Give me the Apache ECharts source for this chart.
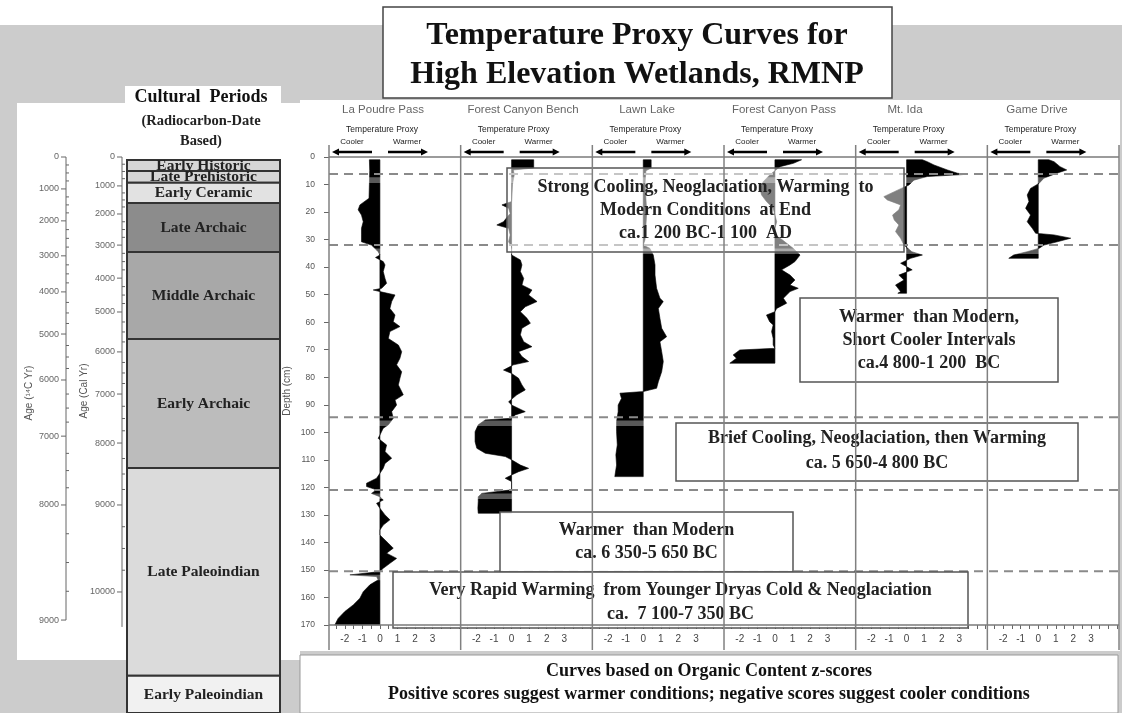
<!DOCTYPE html>
<html><head><meta charset="utf-8">
<script src="https://cdn.jsdelivr.net/npm/echarts@6/dist/echarts.min.js"></script>
<style>html,body{margin:0;padding:0;background:#fff}#c{width:1122px;height:713px}</style>
</head><body><div id="c"></div>
<script>
// ================= DATA =================
const sites = ['La Poudre Pass','Forest Canyon Bench','Lawn Lake','Forest Canyon Pass','Mt. Ida','Game Drive'];
// [depth (cm), organic-content z-score]
const laPoudre = [[1,-0.6],[5,-0.58],[10,-0.6],[15,-0.62],[17.4,-1.14],[19.2,-1.24],[21.1,-1.05],[23.5,-0.95],[25.9,-1.05],[28.3,-1.05],[30.8,-1.05],[32,-0.48],[33.8,-0.19],[34.4,-0.1],[35.6,0],[36.5,-0.25],[38,0.19],[39.2,0.29],[41.6,0.19],[44.1,0.29],[45.9,0.38],[47.7,0.1],[48.3,-0.38],[48.9,0],[50.1,0.86],[52.5,0.67],[55,0.57],[57.4,0.86],[59.8,0.76],[61.6,1.14],[63.4,0.57],[65.9,0.48],[68.3,1.05],[70.7,1.24],[73.1,1.14],[75.5,0.95],[78,1.24],[80.4,1.14],[82.8,1.05],[85.2,1.24],[86.4,1.33],[88.3,0.86],[90.1,0.95],[92.5,0.67],[94.9,0.76],[97.3,0.48],[98.5,0.19],[101,0],[102.2,-0.1],[104.6,0.38],[107,0.29],[109.4,0.67],[111.3,0.29],[113.1,0.19],[114.9,0],[116.7,-0.19],[118.5,-0.76],[119.7,-0.76],[120.9,-0.19],[122.2,-0.48],[123.4,0],[124.6,0.19],[125.8,-0.19],[127.6,0],[130,0.29],[131.8,0.57],[133.7,0.19],[135.5,0],[137.3,0],[140.3,0.48],[142.1,0.76],[143.9,0.38],[145.8,0.95],[147.6,0.57],[149.4,0.19],[150.6,0],[151.8,-1.71],[152.4,-0.19],[153.6,-0.1],[155.4,-0.57],[157.9,-0.95],[160.3,-1.14],[162.7,-1.52],[165.1,-2.0],[167.6,-2.38],[170,-2.57]];
const forestCanyonBench = [[1,1.26],[4,1.26],[4.7,0.1],[6.5,0.15],[10,0.05],[16.2,0],[17.4,-0.55],[18.6,-0.17],[20.5,-0.08],[23.5,-0.46],[24.7,-0.84],[25.9,-0.17],[28.3,-0.08],[30.8,-0.17],[32.6,0],[35.6,0],[37.4,0.5],[39.2,0.59],[41.6,0.5],[44.1,0.69],[46.5,0.59],[48.3,1.16],[50.1,0.97],[52.5,1.45],[54.4,0.78],[56.2,0.5],[58.6,0.88],[60.4,1.07],[62.2,0.59],[64.6,0.5],[67.1,0.69],[68.9,1.16],[70.7,0.4],[72.5,0.59],[74.3,0.97],[75.5,0.11],[77.4,-0.46],[78.6,0],[80.4,0.4],[82.8,0.59],[84.6,0.78],[86.4,0.3],[88.9,-0.17],[90.1,0],[92.5,0.78],[93.7,0.21],[94.9,0],[95.5,-1.5],[97.3,-1.9],[99.8,-2.08],[103.4,-2.08],[105.8,-1.98],[107.6,-1.5],[108.8,-0.36],[110,0],[111.9,0.5],[113.1,0.97],[114.3,0.4],[115.5,0],[116.7,-0.36],[117.9,0],[120.9,0],[122.2,-1.7],[123.4,-1.9],[125.2,-1.9],[127.6,-1.92],[129.4,-1.9]];
const lawnLake = [[1,0.45],[4,0.45],[5,0.15],[10,0.1],[15,0.15],[20,0.2],[25,0.15],[30,0.1],[32,0],[33.2,0.38],[35.6,0.57],[39.2,0.67],[42.9,0.67],[47.7,0.76],[51.3,0.95],[52.5,1.14],[55,0.86],[58.6,0.95],[62.2,1.05],[65.3,1.33],[67.1,0.95],[70.7,1.05],[74.3,1.14],[78,1.05],[81.6,0.86],[84,0.76],[85.2,0],[85.8,-1.33],[87.7,-1.24],[90.1,-1.43],[92.5,-1.43],[96.1,-1.52],[99.8,-1.52],[104.6,-1.48],[108.2,-1.56],[111.9,-1.52],[116.1,-1.62]];
const forestCanyonPass = [[1,1.52],[2.3,1.05],[3.5,0.29],[5,0],[6.5,-0.29],[9,-0.67],[11.4,-0.86],[13.8,-0.76],[16.2,-0.48],[18.6,-0.1],[21.1,0],[23.5,0.1],[25.9,0],[28.3,0],[30,0.4],[32,0.8],[33.2,1.05],[35.6,1.43],[38,1.14],[39.2,0.86],[41,0.38],[42.9,0.86],[44.7,1.14],[46.5,0.86],[47.7,1.33],[48.9,0.86],[51.3,0.48],[53.1,0.67],[55,0.1],[56.2,0],[57.4,-0.48],[59.8,-0.3],[61,-0.1],[63.4,-0.19],[65.9,-0.1],[68.3,-0.1],[69.5,0],[70.1,-2.0],[71.9,-2.38],[73.1,-2.19],[74.9,-2.57]];
const mtIda = [[1,0.9],[1.7,1.18],[2.9,1.56],[4.7,2.32],[5.9,2.9],[6.3,3.4],[7.1,1.18],[8.4,0.42],[10.2,0.13],[11.4,-0.3],[12.6,-0.7],[14.4,-1.3],[15.6,-1.1],[17.4,-0.34],[19.2,-0.44],[21.1,-0.8],[22.9,-0.7],[24.7,-0.44],[27.1,-0.63],[29.5,-0.34],[32,-0.15],[34.4,0.3],[35.6,0.9],[36.8,0.23],[38.6,-0.34],[41,0.32],[42.9,-0.44],[44.7,-0.15],[46.5,-0.63],[48.9,-0.34],[49.5,-0.5]];
const gameDrive = [[1,0.6],[1.7,0.9],[3.5,1.24],[4.7,1.62],[5.9,1.05],[7.7,0.32],[9.6,0.04],[11.4,-0.44],[13.8,-0.63],[16.2,-0.53],[18.6,-0.72],[21.1,-0.44],[23.5,-0.63],[25.9,-0.34],[27.7,-0.15],[28.3,0.9],[29.5,1.85],[30.8,1.08],[32,0.32],[33.2,0.04],[34.4,-0.63],[35.6,-1.4],[36.8,-1.68]];

const zTickLabels = [-2,-1,0,1,2,3];
const zTicks = [-2.5,-2,-1.5,-1,-0.5,0,0.5,1,1.5,2,2.5,3,3.5,4,4.5];
const zoneBoundaries = [6.2,32,94.5,121,150.5];          // dashed lines, depth cm

const c14Ages  = [0,1000,2000,3000,4000,5000,6000,7000,8000,9000];
const c14Depth = [0,11.6,23.2,35.9,49,64.3,81,101.4,126.4,168.2];   // depth-equivalent position
const calAges  = [0,1000,2000,3000,4000,5000,6000,7000,8000,9000,10000];
const calDepth = [0,10.5,20.7,32,44,56.3,70.8,86.1,103.9,126.4,158];

const periods      = ['Early Historic','Late Prehistoric','Early Ceramic','Late Archaic','Middle Archaic','Early Archaic','Late Paleoindian','Early Paleoindian'];
const periodTop    = [1.1,5.1,9.4,16.7,34.5,66.1,113,188.5];
const periodBottom = [5.1,9.4,16.7,34.5,66.1,113,188.5,202];
const periodShade  = ['#d6d6d6','#d6d6d6','#e2e2e2','#8c8c8c','#a8a8a8','#bcbcbc','#dbdbdb','#f1f1f1'];

const annotationTexts = [
  'Strong Cooling, Neoglaciation, Warming  to\nModern Conditions  at End\nca.1 200 BC-1 100  AD',
  'Warmer  than Modern,\nShort Cooler Intervals\nca.4 800-1 200  BC',
  'Brief Cooling, Neoglaciation, then Warming\nca. 5 650-4 800 BC',
  'Warmer  than Modern\nca. 6 350-5 650 BC',
  'Very Rapid Warming  from Younger Dryas Cold & Neoglaciation\nca.  7 100-7 350 BC'
];
const titleText = 'Temperature Proxy Curves for\nHigh Elevation Wetlands, RMNP';
const footText = 'Curves based on Organic Content z-scores\nPositive scores suggest warmer conditions; negative scores suggest cooler conditions';

// ================= LAYOUT =================
const PX = 2.753, TOP = 157, P0 = 329, PW = 131.67, XMIN = -2.9, XMAX = 4.6;
const SERIF = '"Liberation Serif", "Times New Roman", serif';
const SANS = '"Liberation Sans", Arial, sans-serif';
const siteData = [laPoudre, forestCanyonBench, lawnLake, forestCanyonPass, mtIda, gameDrive];
const siteNameX = [383, 523, 647, 784, 905, 1037];

const grids = [], xAxes = [], yAxes = [], series = [];

function areaSeries(idx, pts) {
  return {
    type: 'custom', xAxisIndex: idx, yAxisIndex: idx, z: 2, silent: true,
    data: pts.map(p => [p[1], p[0]]),
    renderItem(params, api) {
      if (params.dataIndex !== 0) return;
      const poly = [api.coord([0, pts[0][0]])];
      pts.forEach(p => poly.push(api.coord([p[1], p[0]])));
      poly.push(api.coord([0, pts[pts.length - 1][0]]));
      return { type: 'polygon', shape: { points: poly }, style: { fill: '#000', stroke: '#000', lineWidth: 0.6 } };
    }
  };
}

for (let i = 0; i < 6; i++) {
  grids.push({ left: P0 + i * PW, top: TOP, width: PW, height: 170 * PX });
  xAxes.push({
    gridIndex: i, type: 'value', min: XMIN, max: XMAX, position: 'bottom',
    axisLine: { show: false, onZero: false }, splitLine: { show: false },
    axisTick: { show: true, length: 4, lineStyle: { color: '#666' }, customValues: zTicks },
    axisLabel: { customValues: zTickLabels, fontSize: 10, color: '#444', margin: 9, fontFamily: SANS }
  });
  yAxes.push({
    gridIndex: i, type: 'value', inverse: true, min: 0, max: 170, interval: 10, show: i === 0, position: 'left',
    axisLine: { show: false, onZero: false }, splitLine: { show: false },
    axisTick: { show: true, length: 5, lineStyle: { color: '#666' } },
    axisLabel: { fontSize: 8.5, color: '#555', margin: 14, fontFamily: SANS },
    name: i === 0 ? 'Depth (cm)' : '', nameLocation: 'middle', nameGap: 37, nameRotate: 90,
    nameTextStyle: { fontSize: 10, color: '#555', fontFamily: SANS }
  });
  series.push(areaSeries(i, siteData[i]));
}

// frame grid (index 6) spanning all panels
grids.push({ left: P0, top: TOP, width: 6 * PW, height: 170 * PX });
xAxes.push({ gridIndex: 6, type: 'value', min: 0, max: 6, show: false });
yAxes.push({ gridIndex: 6, type: 'value', inverse: true, min: 0, max: 170, show: false });
// age grid (index 7)
grids.push({ left: 0, top: TOP, width: 300, height: 175 * PX });
xAxes.push({ gridIndex: 7, type: 'value', min: 0, max: 300, show: false });
yAxes.push({ gridIndex: 7, type: 'value', inverse: true, min: 0, max: 175, show: false });
// period grid (index 8)
grids.push({ left: 127, top: TOP, width: 153, height: 202 * PX });
xAxes.push({ gridIndex: 8, type: 'value', min: 0, max: 1, show: false });
yAxes.push({ gridIndex: 8, type: 'value', inverse: true, min: 0, max: 202, show: false });

// translucent bands just below boundaries
series.push({
  type: 'custom', xAxisIndex: 6, yAxisIndex: 6, z: 4, silent: true,
  data: zoneBoundaries.map(d => [0, d]),
  renderItem(params, api) {
    const d = zoneBoundaries[params.dataIndex];
    const a = api.coord([0, d + 1.2]), b = api.coord([6, d + 3.2]);
    return { type: 'rect', shape: { x: a[0], y: a[1], width: b[0] - a[0], height: b[1] - a[1] }, style: { fill: 'rgba(255,255,255,0.35)' } };
  }
});
// dashed boundaries
series.push({
  type: 'custom', xAxisIndex: 6, yAxisIndex: 6, z: 5, silent: true,
  data: zoneBoundaries.map(d => [0, d]),
  renderItem(params, api) {
    const d = zoneBoundaries[params.dataIndex];
    const a = api.coord([0, d]), b = api.coord([6, d]);
    return { type: 'line', shape: { x1: a[0], y1: a[1], x2: b[0], y2: b[1] }, style: { stroke: '#8a8a8a', lineWidth: 2, lineDash: [9, 6] } };
  }
});
// panel separators + frame
series.push({
  type: 'custom', xAxisIndex: 6, yAxisIndex: 6, z: 20, silent: true,
  data: [0, 1, 2, 3, 4, 5, 6].map(k => [k, 0]),
  renderItem(params, api) {
    const k = params.dataIndex;
    const a = api.coord([k, -4.4]), b = api.coord([k, 179.1]);
    const ch = [{ type: 'line', shape: { x1: a[0], y1: a[1], x2: b[0], y2: b[1] }, style: { stroke: '#808080', lineWidth: 1.5 } }];
    if (k < 6) {
      [0, 170].forEach(d => {
        const p = api.coord([k, d]), q = api.coord([k + 1, d]);
        ch.push({ type: 'line', shape: { x1: p[0], y1: p[1], x2: q[0], y2: q[1] }, style: { stroke: '#7a7a7a', lineWidth: 1.5 } });
      });
    }
    return { type: 'group', children: ch };
  }
});

// age axes
function ageAxis(ages, depths, axisX, endDepth) {
  return {
    type: 'custom', xAxisIndex: 7, yAxisIndex: 7, z: 3, silent: true,
    data: ages.map((a, i) => [axisX, depths[i]]),
    renderItem(params, api) {
      const i = params.dataIndex;
      const p = api.coord([axisX, depths[i]]);
      const hasNext = i + 1 < depths.length;
      const nd = hasNext ? depths[i + 1] : endDepth;
      const q = api.coord([axisX, nd]);
      const st = { stroke: '#666', lineWidth: 1 };
      const ch = [
        { type: 'line', shape: { x1: p[0], y1: p[1], x2: q[0], y2: q[1] }, style: st },
        { type: 'line', shape: { x1: p[0] - 5, y1: p[1], x2: p[0], y2: p[1] }, style: st },
        { type: 'text', style: { text: String(ages[i]), x: p[0] - 7, y: p[1], align: 'right', textAlign: 'right', verticalAlign: 'middle', textVerticalAlign: 'middle', fill: '#666', font: '9px ' + SANS } }
      ];
      if (hasNext) {
        for (let k = 1; k < 4; k++) {
          const y = p[1] + (q[1] - p[1]) * k / 4;
          ch.push({ type: 'line', shape: { x1: p[0], y1: y, x2: p[0] + 3, y2: y }, style: st });
        }
      }
      return { type: 'group', children: ch };
    }
  };
}
series.push(ageAxis(c14Ages, c14Depth, 66, 168.2));
series.push(ageAxis(calAges, calDepth, 122, 170.7));

// cultural periods
series.push({
  type: 'custom', xAxisIndex: 8, yAxisIndex: 8, z: 3, silent: true,
  data: periods.map((n, i) => [0, periodTop[i]]),
  renderItem(params, api) {
    const i = params.dataIndex;
    const a = api.coord([0, periodTop[i]]), b = api.coord([1, periodBottom[i]]);
    return {
      type: 'group', children: [
        { type: 'rect', z2: 1, shape: { x: a[0], y: a[1], width: b[0] - a[0], height: b[1] - a[1] }, style: { fill: periodShade[i], stroke: '#333', lineWidth: 2 } },
        { type: 'text', z2: 10, style: { text: periods[i], x: (a[0] + b[0]) / 2, y: (a[1] + b[1]) / 2 + 0.5, align: 'center', textAlign: 'center', verticalAlign: 'middle', textVerticalAlign: 'middle', fill: '#222', font: 'bold 15.5px ' + SERIF } }
      ]
    };
  }
});

// ================= GRAPHICS (decoration / text) =================
const g = [];
g.push({ type: 'rect', z: -100, shape: { x: 0, y: 25, width: 1122, height: 688 }, style: { fill: '#cccccc' } });
g.push({ type: 'rect', z: -99, shape: { x: 17, y: 103, width: 283, height: 557 }, style: { fill: '#fff' } });
g.push({ type: 'rect', z: -99, shape: { x: 300, y: 100, width: 820, height: 551 }, style: { fill: '#fff' } });
g.push({ type: 'rect', z: -99, shape: { x: 125, y: 86, width: 156, height: 20 }, style: { fill: '#fff' } });
// title
g.push({ type: 'rect', z: 30, shape: { x: 383, y: 7, width: 509, height: 91 }, style: { fill: '#fff', stroke: '#444', lineWidth: 1.5 } });
g.push({ type: 'text', z: 31, style: { text: titleText, x: 637, y: 55, textAlign: 'center', align: 'center', textVerticalAlign: 'middle', verticalAlign: 'middle', font: 'bold 32px ' + SERIF, lineHeight: 39, fill: '#111' } });
// cultural header
g.push({ type: 'text', z: 31, style: { text: 'Cultural  Periods', x: 201, y: 97, textAlign: 'center', align: 'center', textVerticalAlign: 'middle', verticalAlign: 'middle', font: 'bold 18px ' + SERIF, fill: '#111' } });
g.push({ type: 'text', z: 31, style: { text: '(Radiocarbon-Date\nBased)', x: 201, y: 131, textAlign: 'center', align: 'center', textVerticalAlign: 'middle', verticalAlign: 'middle', font: 'bold 14.5px ' + SERIF, lineHeight: 20, fill: '#222' } });
// age axis titles
g.push({ type: 'text', z: 31, x: 29, y: 393, rotation: Math.PI / 2, style: { text: 'Age (\u00b9\u2074C Yr)', x: 0, y: 0, textAlign: 'center', align: 'center', textVerticalAlign: 'middle', verticalAlign: 'middle', font: '10px ' + SANS, fill: '#555' } });
g.push({ type: 'text', z: 31, x: 84, y: 391, rotation: Math.PI / 2, style: { text: 'Age (Cal Yr)', x: 0, y: 0, textAlign: 'center', align: 'center', textVerticalAlign: 'middle', verticalAlign: 'middle', font: '10px ' + SANS, fill: '#555' } });
// panel headers
for (let i = 0; i < 6; i++) {
  const L = P0 + i * PW;
  g.push({ type: 'text', z: 31, style: { text: sites[i], x: siteNameX[i], y: 110, textAlign: 'center', align: 'center', textVerticalAlign: 'middle', verticalAlign: 'middle', font: '11.5px ' + SANS, fill: '#666' } });
  g.push({ type: 'text', z: 31, style: { text: 'Temperature Proxy', x: L + 53, y: 130, textAlign: 'center', align: 'center', textVerticalAlign: 'middle', verticalAlign: 'middle', font: '8.5px ' + SANS, fill: '#222' } });
  g.push({ type: 'text', z: 31, style: { text: 'Cooler', x: L + 23, y: 142, textAlign: 'center', align: 'center', textVerticalAlign: 'middle', verticalAlign: 'middle', font: '8px ' + SANS, fill: '#222' } });
  g.push({ type: 'text', z: 31, style: { text: 'Warmer', x: L + 78, y: 142, textAlign: 'center', align: 'center', textVerticalAlign: 'middle', verticalAlign: 'middle', font: '8px ' + SANS, fill: '#222' } });
  g.push({ type: 'line', z: 31, shape: { x1: L + 8, y1: 152, x2: L + 43, y2: 152 }, style: { stroke: '#000', lineWidth: 2.5 } });
  g.push({ type: 'polygon', z: 31, shape: { points: [[L + 3, 152], [L + 10, 148.5], [L + 10, 155.5]] }, style: { fill: '#000' } });
  g.push({ type: 'line', z: 31, shape: { x1: L + 59, y1: 152, x2: L + 94, y2: 152 }, style: { stroke: '#000', lineWidth: 2.5 } });
  g.push({ type: 'polygon', z: 31, shape: { points: [[L + 99, 152], [L + 92, 148.5], [L + 92, 155.5]] }, style: { fill: '#000' } });
}
// annotation boxes
const boxes = [
  { x: 507, y: 168, w: 397, h: 84, cy: 210, lh: 23, fill: 'rgba(255,255,255,0.5)' },
  { x: 800, y: 298, w: 258, h: 84, cy: 340, lh: 23, fill: 'rgba(255,255,255,0.9)' },
  { x: 676, y: 423, w: 402, h: 58, cy: 451, lh: 25, fill: 'rgba(255,255,255,0.9)' },
  { x: 500, y: 512, w: 293, h: 60, cy: 542, lh: 23, fill: 'rgba(255,255,255,0.9)' },
  { x: 393, y: 572, w: 575, h: 56, cy: 602, lh: 24, fill: 'rgba(255,255,255,0.9)' }
];
boxes.forEach((b, i) => {
  g.push({ type: 'rect', z: 10, shape: { x: b.x, y: b.y, width: b.w, height: b.h }, style: { fill: b.fill, stroke: '#555', lineWidth: 1.5 } });
  g.push({ type: 'text', z: 11, style: { text: annotationTexts[i], x: b.x + b.w / 2, y: b.cy, textAlign: 'center', align: 'center', textVerticalAlign: 'middle', verticalAlign: 'middle', font: 'bold 18px ' + SERIF, lineHeight: b.lh, fill: '#222' } });
});
// footer
g.push({ type: 'rect', z: 30, shape: { x: 300, y: 655, width: 818, height: 58 }, style: { fill: '#fff', stroke: '#999', lineWidth: 1 } });
g.push({ type: 'text', z: 31, style: { text: footText, x: 709, y: 683, textAlign: 'center', align: 'center', textVerticalAlign: 'middle', verticalAlign: 'middle', font: 'bold 18px ' + SERIF, lineHeight: 23, fill: '#111' } });

const chart = echarts.init(document.getElementById('c'), null, { renderer: 'canvas' });
chart.setOption({
  animation: false,
  backgroundColor: '#ffffff',
  grid: grids, xAxis: xAxes, yAxis: yAxes, series: series,
  graphic: { elements: g }
});
</script></body></html>
